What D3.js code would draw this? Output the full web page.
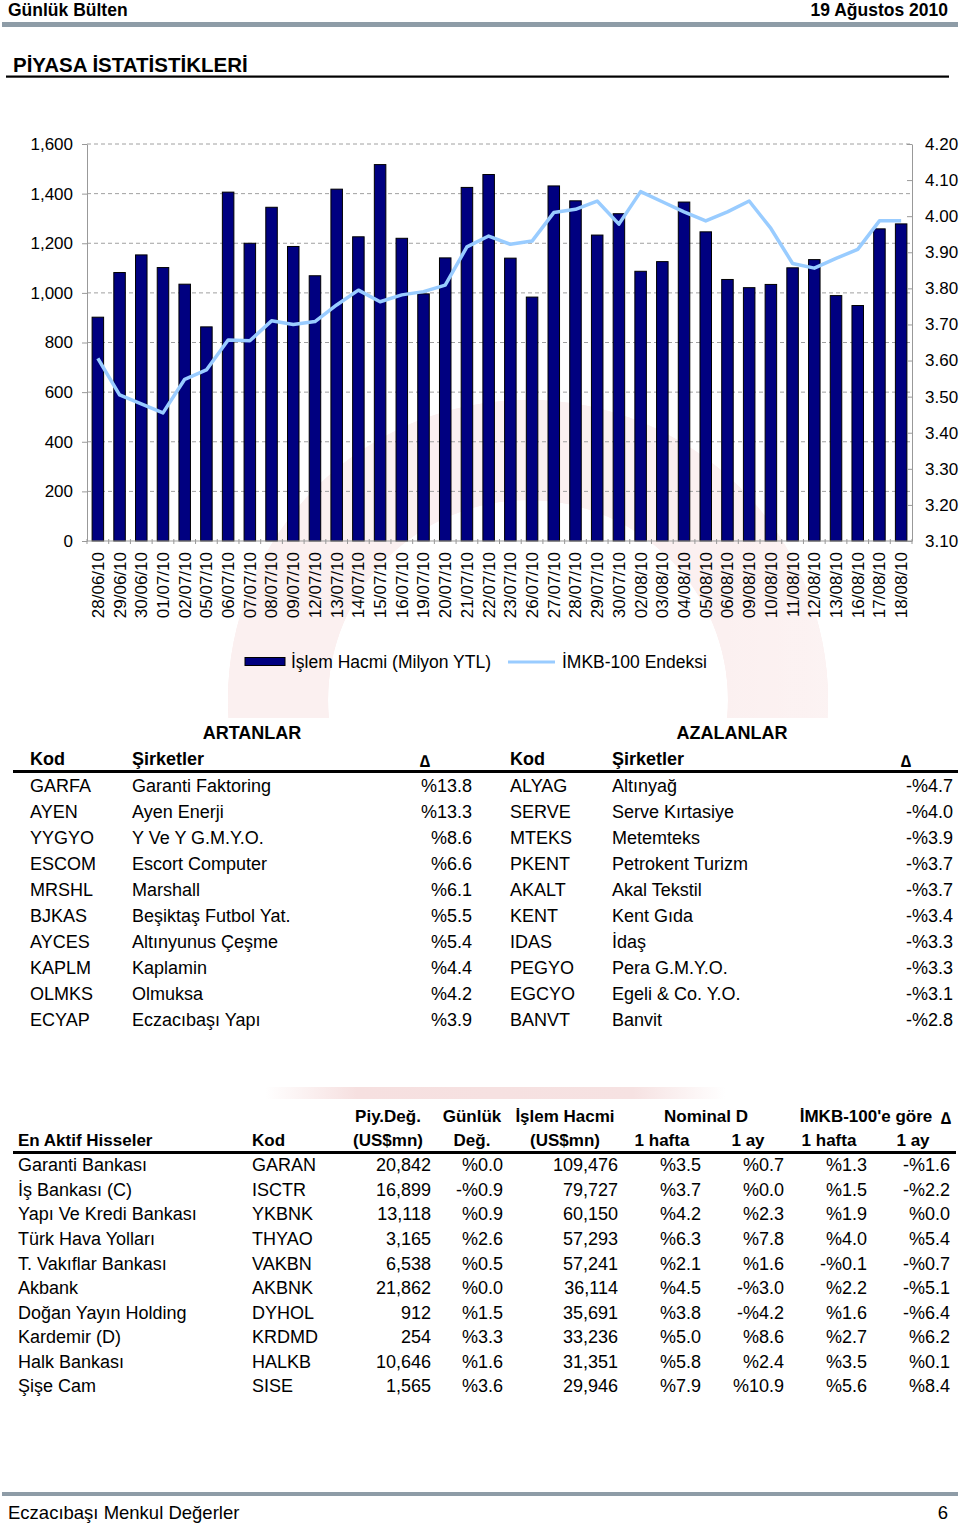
<!DOCTYPE html>
<html><head><meta charset="utf-8">
<script src="https://cdn.jsdelivr.net/npm/d3@7"></script>
<style>
body{margin:0;background:#fff;}
svg{display:block;font-family:Arial,"Liberation Sans",sans-serif;}
</style>
</head><body>
<svg id="c" width="960" height="1526"></svg>
<script>
// ---------- DATA ----------
const dates = ["28/06/10","29/06/10","30/06/10","01/07/10","02/07/10","05/07/10","06/07/10","07/07/10","08/07/10","09/07/10",
  "12/07/10","13/07/10","14/07/10","15/07/10","16/07/10","19/07/10","20/07/10","21/07/10","22/07/10","23/07/10",
  "26/07/10","27/07/10","28/07/10","29/07/10","30/07/10","02/08/10","03/08/10","04/08/10","05/08/10","06/08/10",
  "09/08/10","10/08/10","11/08/10","12/08/10","13/08/10","16/08/10","17/08/10","18/08/10"];
const volume = [902,1082,1153,1102,1035,863,1406,1200,1345,1187,
  1069,1418,1226,1517,1220,996,1141,1425,1477,1140,
  983,1431,1371,1233,1319,1087,1126,1366,1246,1054,
  1021,1034,1101,1134,989,949,1258,1278];
const indexVal = [3.606,3.505,3.480,3.455,3.548,3.574,3.657,3.655,3.710,3.700,
  3.708,3.754,3.795,3.763,3.782,3.791,3.809,3.915,3.945,3.922,
  3.931,4.010,4.019,4.042,3.978,4.068,4.040,4.012,3.987,4.012,
  4.042,3.966,3.869,3.856,3.883,3.908,3.987,3.987];
const volumeTicks = [0,200,400,600,800,1000,1200,1400,1600];
const indexTicks = [3.1,3.2,3.3,3.4,3.5,3.6,3.7,3.8,3.9,4.0,4.1,4.2];
const legendLabels = ["İşlem Hacmi (Milyon YTL)","İMKB-100 Endeksi"];

const riseCode = ["GARFA","AYEN","YYGYO","ESCOM","MRSHL","BJKAS","AYCES","KAPLM","OLMKS","ECYAP"];
const riseName = ["Garanti Faktoring","Ayen Enerji","Y Ve Y G.M.Y.O.","Escort Computer","Marshall","Beşiktaş Futbol Yat.","Altınyunus Çeşme","Kaplamin","Olmuksa","Eczacıbaşı Yapı"];
const riseChg = ["%13.8","%13.3","%8.6","%6.6","%6.1","%5.5","%5.4","%4.4","%4.2","%3.9"];
const fallCode = ["ALYAG","SERVE","MTEKS","PKENT","AKALT","KENT","IDAS","PEGYO","EGCYO","BANVT"];
const fallName = ["Altınyağ","Serve Kırtasiye","Metemteks","Petrokent Turizm","Akal Tekstil","Kent Gıda","İdaş","Pera G.M.Y.O.","Egeli & Co.  Y.O.","Banvit"];
const fallChg = ["-%4.7","-%4.0","-%3.9","-%3.7","-%3.7","-%3.4","-%3.3","-%3.3","-%3.1","-%2.8"];

const actName = ["Garanti Bankası","İş Bankası (C)","Yapı Ve Kredi Bankası","Türk Hava Yolları","T. Vakıflar Bankası","Akbank","Doğan Yayın Holding","Kardemir (D)","Halk Bankası","Şişe Cam"];
const actCode = ["GARAN","ISCTR","YKBNK","THYAO","VAKBN","AKBNK","DYHOL","KRDMD","HALKB","SISE"];
const actMcap = ["20,842","16,899","13,118","3,165","6,538","21,862","912","254","10,646","1,565"];
const actDaily = ["%0.0","-%0.9","%0.9","%2.6","%0.5","%0.0","%1.5","%3.3","%1.6","%3.6"];
const actVol = ["109,476","79,727","60,150","57,293","57,241","36,114","35,691","33,236","31,351","29,946"];
const nom1w = ["%3.5","%3.7","%4.2","%6.3","%2.1","%4.5","%3.8","%5.0","%5.8","%7.9"];
const nom1m = ["%0.7","%0.0","%2.3","%7.8","%1.6","-%3.0","-%4.2","%8.6","%2.4","%10.9"];
const rel1w = ["%1.3","%1.5","%1.9","%4.0","-%0.1","%2.2","%1.6","%2.7","%3.5","%5.6"];
const rel1m = ["-%1.6","-%2.2","%0.0","%5.4","-%0.7","-%5.1","-%6.4","%6.2","%0.1","%8.4"];

// ---------- DRAW ----------
const svg = d3.select("#c");
function txt(x, y, s, o = {}) {
  return svg.append("text").attr("x", x).attr("y", y).attr("dy", "0.35em")
    .attr("text-anchor", o.anchor || "start")
    .attr("font-size", o.size || 18)
    .attr("font-weight", o.bold ? "bold" : "normal")
    .attr("fill", "#000").text(s);
}

// watermark (faint logo)
const defs = svg.append("defs");
const g1 = defs.append("linearGradient").attr("id", "wm").attr("gradientUnits", "userSpaceOnUse")
  .attr("x1", 200).attr("x2", 840).attr("y1", 0).attr("y2", 0);
g1.append("stop").attr("offset", "0").attr("stop-color", "#f6dada");
g1.append("stop").attr("offset", "0.45").attr("stop-color", "#fbecec");
g1.append("stop").attr("offset", "0.75").attr("stop-color", "#f6f2f2");
g1.append("stop").attr("offset", "1").attr("stop-color", "#eeeeee");
const g3 = defs.append("linearGradient").attr("id", "wmv").attr("gradientUnits", "userSpaceOnUse")
  .attr("x1", 0).attr("x2", 0).attr("y1", 390).attr("y2", 720);
g3.append("stop").attr("offset", "0").attr("stop-color", "#fff").attr("stop-opacity", 0.6);
g3.append("stop").attr("offset", "0.5").attr("stop-color", "#fff").attr("stop-opacity", 0);
defs.append("clipPath").attr("id", "wmclip").append("rect").attr("x", 0).attr("y", 380).attr("width", 960).attr("height", 338);
const wmG = svg.append("g").attr("clip-path", "url(#wmclip)");
const ringD = d3.arc().innerRadius(200).outerRadius(300).startAngle(0).endAngle(2 * Math.PI)();
wmG.append("path").attr("d", ringD).attr("transform", "translate(528,700)").attr("fill", "url(#wm)");
wmG.append("path").attr("d", ringD).attr("transform", "translate(528,700)").attr("fill", "url(#wmv)");
const g2 = defs.append("linearGradient").attr("id", "wm2").attr("x1", "0").attr("x2", "1");
g2.append("stop").attr("offset", "0").attr("stop-color", "#fff");
g2.append("stop").attr("offset", "0.2").attr("stop-color", "#f6e0e0");
g2.append("stop").attr("offset", "0.8").attr("stop-color", "#f6e2e2");
g2.append("stop").attr("offset", "1").attr("stop-color", "#fff");
svg.append("rect").attr("x", 265).attr("y", 1087).attr("width", 460).attr("height", 12).attr("fill", "url(#wm2)");

// header
txt(8, 10, "Günlük Bülten", {bold: true, size: 17.5});
txt(948, 10, "19 Ağustos 2010", {bold: true, size: 17.5, anchor: "end"});
svg.append("rect").attr("x", 2).attr("y", 22).attr("width", 956).attr("height", 5).attr("fill", "#8e9ca7");
txt(13, 65, "PİYASA İSTATİSTİKLERİ", {bold: true, size: 20.5});
svg.append("rect").attr("x", 6).attr("y", 75.5).attr("width", 943).attr("height", 2.2).attr("fill", "#000");

// footer
svg.append("rect").attr("x", 2).attr("y", 1492).attr("width", 956).attr("height", 4).attr("fill", "#8e9ca7");
txt(8, 1513, "Eczacıbaşı Menkul Değerler", {size: 18.5});
txt(948, 1513, "6", {size: 18.5, anchor: "end"});

// chart
const L = 87, R = 912, T = 144, B = 541;
const x = d3.scaleBand().domain(dates).range([L, R]).paddingInner(0.47).paddingOuter(0.235);
const yL = d3.scaleLinear().domain([0, 1600]).range([B, T]);
const yR = d3.scaleLinear().domain([3.1, 4.2]).range([B, T]);
const bw = x.bandwidth();

// grid
svg.append("g").selectAll("line").data(volumeTicks.filter(d => d > 0)).join("line")
  .attr("x1", L).attr("x2", R).attr("y1", d => yL(d)).attr("y2", d => yL(d))
  .attr("stroke", "#a0a0a0").attr("stroke-width", 1).attr("stroke-dasharray", "4,3");

// bars
svg.append("g").selectAll("rect").data(volume).join("rect")
  .attr("x", (d, i) => x(dates[i])).attr("y", d => yL(d))
  .attr("width", bw).attr("height", d => B - yL(d))
  .attr("fill", "#000080").attr("stroke", "#000").attr("stroke-width", 1);

// line
svg.append("path").datum(indexVal)
  .attr("d", d3.line().x((d, i) => x(dates[i]) + bw / 2).y(d => yR(d)))
  .attr("fill", "none").attr("stroke", "#99ccff").attr("stroke-width", 3.5)
  .attr("stroke-linejoin", "round");

// left axis
const ax = svg.append("g").attr("transform", `translate(${L},0)`)
  .call(d3.axisLeft(yL).tickValues(volumeTicks).tickFormat(d3.format(",")).tickSize(5).tickSizeOuter(0).tickPadding(9));
// right axis
const ar = svg.append("g").attr("transform", `translate(${R},0)`)
  .call(d3.axisRight(yR).tickValues(indexTicks).tickFormat(d3.format(".2f")).tickSize(-5).tickSizeOuter(0).tickPadding(13));
[ax, ar].forEach(g => {
  g.select(".domain").attr("stroke", "#999");
  g.selectAll(".tick line").attr("stroke", "#999");
  g.selectAll(".tick text").attr("font-size", 17).attr("font-family", "Arial, 'Liberation Sans', sans-serif").attr("fill", "#000");
});

// x axis
svg.append("line").attr("x1", L).attr("x2", R).attr("y1", B).attr("y2", B).attr("stroke", "#999");
const gap = (x.step() - bw) / 2;
svg.append("g").selectAll("line").data(dates.concat([null])).join("line")
  .attr("x1", (d, i) => d ? x(d) - gap : R).attr("x2", (d, i) => d ? x(d) - gap : R)
  .attr("y1", B - 2).attr("y2", B + 3).attr("stroke", "#999");
svg.append("g").selectAll("text").data(dates).join("text")
  .attr("transform", d => `translate(${x(d) + bw / 2},552) rotate(-90)`)
  .attr("text-anchor", "end").attr("dy", "0.35em").attr("font-size", 17).attr("fill", "#000")
  .text(d => d);

// legend
svg.append("rect").attr("x", 245).attr("y", 657.5).attr("width", 40).attr("height", 8).attr("fill", "#000080").attr("stroke", "#000");
txt(291, 662, legendLabels[0], {size: 17.5});
svg.append("line").attr("x1", 508).attr("x2", 555).attr("y1", 662).attr("y2", 662).attr("stroke", "#99ccff").attr("stroke-width", 3);
txt(562, 662, legendLabels[1], {size: 17.5});

// ---------- table 1 ----------
txt(252, 733, "ARTANLAR", {bold: true, size: 18, anchor: "middle"});
txt(732, 733, "AZALANLAR", {bold: true, size: 18, anchor: "middle"});
txt(30, 759, "Kod", {bold: true});
txt(132, 759, "Şirketler", {bold: true});
txt(425, 761, "∆", {bold: true, size: 17, anchor: "middle"});
txt(510, 759, "Kod", {bold: true});
txt(612, 759, "Şirketler", {bold: true});
txt(906, 761, "∆", {bold: true, size: 17, anchor: "middle"});
svg.append("rect").attr("x", 13).attr("y", 770).attr("width", 945).attr("height", 3).attr("fill", "#000");
riseCode.forEach((c, i) => {
  const y = 786 + i * 26;
  txt(30, y, c);
  txt(132, y, riseName[i]);
  txt(472, y, riseChg[i], {anchor: "end"});
  txt(510, y, fallCode[i]);
  txt(612, y, fallName[i]);
  txt(953, y, fallChg[i], {anchor: "end"});
});

// ---------- table 2 ----------
const h1 = 1116, h2 = 1140;
txt(388, h1, "Piy.Değ.", {bold: true, anchor: "middle", size: 17});
txt(472, h1, "Günlük", {bold: true, anchor: "middle", size: 17});
txt(565, h1, "İşlem Hacmi", {bold: true, anchor: "middle", size: 17});
txt(706, h1, "Nominal D", {bold: true, anchor: "middle", size: 17});
txt(866, h1, "İMKB-100'e göre", {bold: true, anchor: "middle", size: 17});
txt(946, h1 + 2, "∆", {bold: true, anchor: "middle", size: 17});
txt(18, h2, "En Aktif Hisseler", {bold: true, size: 17});
txt(252, h2, "Kod", {bold: true, size: 17});
txt(388, h2, "(US$mn)", {bold: true, anchor: "middle", size: 17});
txt(472, h2, "Değ.", {bold: true, anchor: "middle", size: 17});
txt(565, h2, "(US$mn)", {bold: true, anchor: "middle", size: 17});
txt(662, h2, "1 hafta", {bold: true, anchor: "middle", size: 17});
txt(748, h2, "1 ay", {bold: true, anchor: "middle", size: 17});
txt(829, h2, "1 hafta", {bold: true, anchor: "middle", size: 17});
txt(913, h2, "1 ay", {bold: true, anchor: "middle", size: 17});
svg.append("rect").attr("x", 13).attr("y", 1151).attr("width", 943).attr("height", 3).attr("fill", "#000");
actName.forEach((n, i) => {
  const y = 1165 + i * 24.56;
  txt(18, y, n);
  txt(252, y, actCode[i]);
  txt(431, y, actMcap[i], {anchor: "end"});
  txt(503, y, actDaily[i], {anchor: "end"});
  txt(618, y, actVol[i], {anchor: "end"});
  txt(701, y, nom1w[i], {anchor: "end"});
  txt(784, y, nom1m[i], {anchor: "end"});
  txt(867, y, rel1w[i], {anchor: "end"});
  txt(950, y, rel1m[i], {anchor: "end"});
});
</script>
</body></html>
